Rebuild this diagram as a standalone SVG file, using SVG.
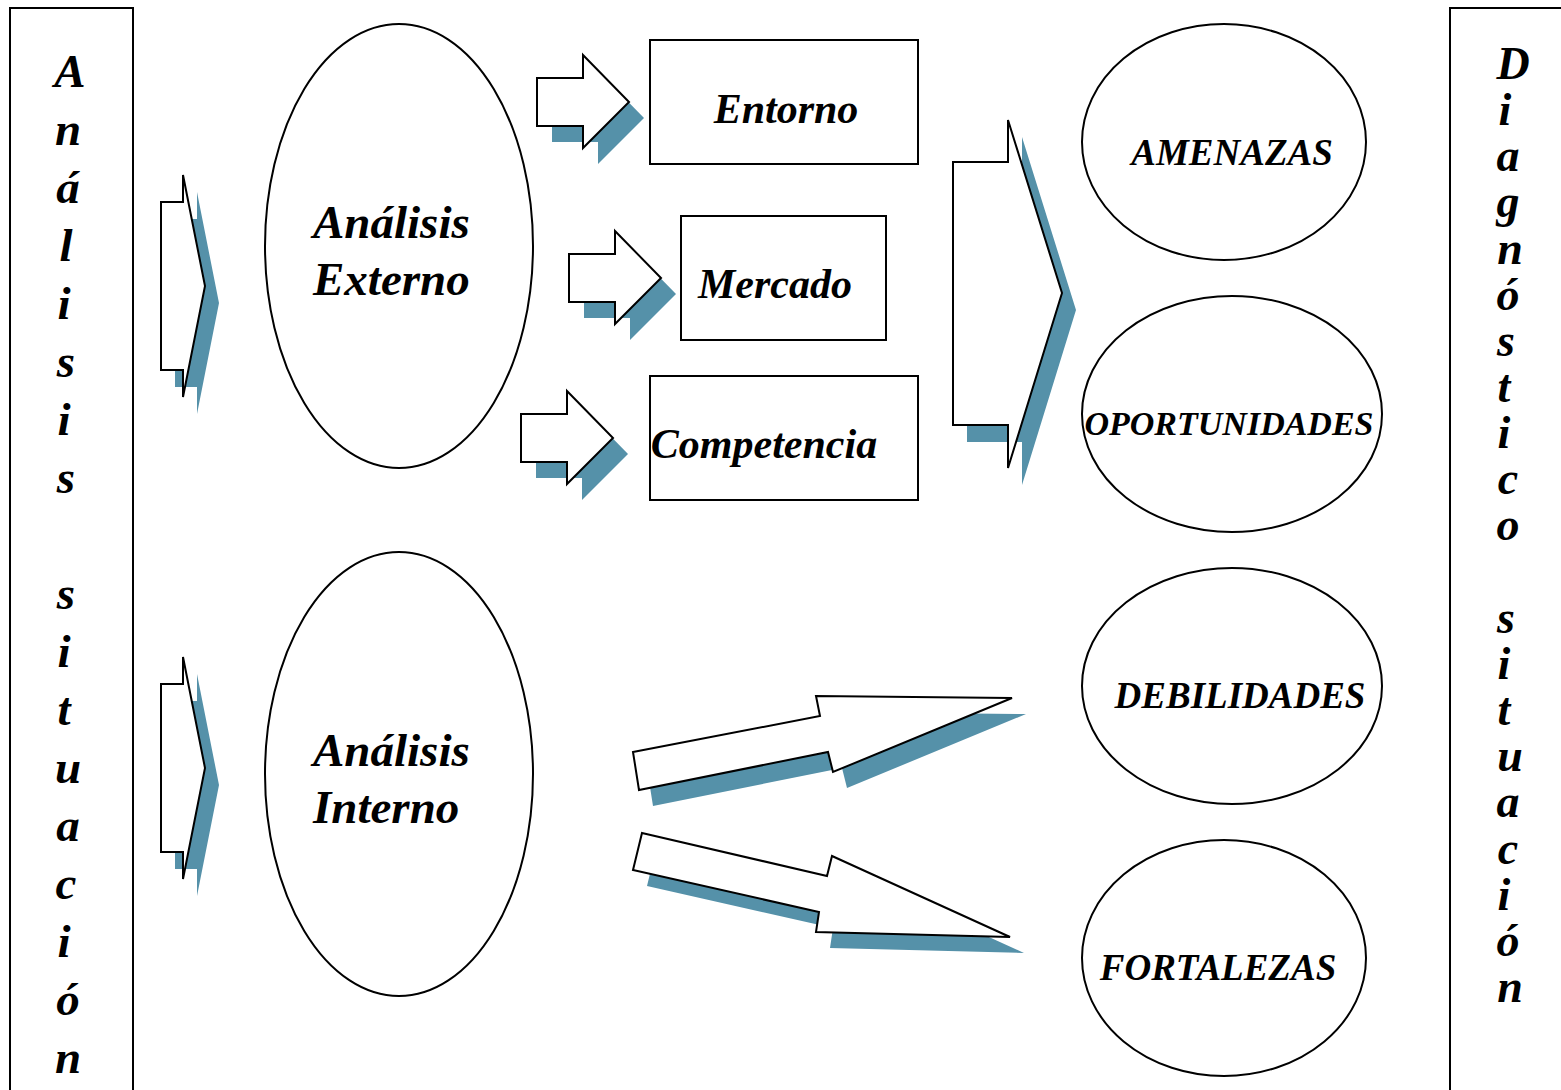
<svg xmlns="http://www.w3.org/2000/svg" width="1561" height="1090" viewBox="0 0 1561 1090">
<style>
.ln{fill:#fff;stroke:#000;stroke-width:2}
.sh{fill:#5591a9;stroke:none}
.t{font-family:"Liberation Serif","Times New Roman",serif;font-weight:bold;font-style:italic;fill:#000}
.col{font-size:47px;text-anchor:middle}
.col2{font-size:46px;text-anchor:middle}
.big{font-size:47px}
.mid{font-size:42px;text-anchor:middle}
.el{font-size:37px;text-anchor:middle}
</style>
<defs>
<polygon id="chev" points="161,202 183,202 183,175 205,286 183,397 183,370 161,370"/>
<polygon id="barrow" points="537,78 583,78 583,55 629,102 583,148 583,126 537,126"/>
</defs>
<rect width="1561" height="1090" fill="#fff"/>

<g id="left-panel">
<rect x="10" y="8" width="123" height="1100" class="ln"/>
<g class="t col">
<text x="70" y="87">A</text>
<text x="68" y="145">n</text>
<text x="68" y="203">á</text>
<text x="66" y="261">l</text>
<text x="64" y="319">i</text>
<text x="66" y="377">s</text>
<text x="64" y="435">i</text>
<text x="66" y="493">s</text>
<text x="66" y="609">s</text>
<text x="64" y="667">i</text>
<text x="64" y="725">t</text>
<text x="68" y="783">u</text>
<text x="68" y="841">a</text>
<text x="66" y="899">c</text>
<text x="64" y="957">i</text>
<text x="68" y="1015">ó</text>
<text x="68" y="1073">n</text>
</g>
</g>

<g id="right-panel">
<rect x="1450" y="8" width="130" height="1100" class="ln"/>
<g class="t col2">
<text x="1513" y="79">D</text>
<text x="1505" y="125">i</text>
<text x="1508" y="171">a</text>
<text x="1508" y="217">g</text>
<text x="1510" y="264">n</text>
<text x="1508" y="310">ó</text>
<text x="1506" y="356">s</text>
<text x="1504" y="402">t</text>
<text x="1504" y="448">i</text>
<text x="1508" y="494">c</text>
<text x="1508" y="540">o</text>
<text x="1506" y="633">s</text>
<text x="1504" y="679">i</text>
<text x="1504" y="725">t</text>
<text x="1510" y="771">u</text>
<text x="1508" y="817">a</text>
<text x="1508" y="864">c</text>
<text x="1504" y="910">i</text>
<text x="1508" y="956">ó</text>
<text x="1510" y="1002">n</text>
</g>
</g>

<g id="connectors">
<use href="#chev" class="sh" transform="translate(14,17)"/>
<use href="#chev" class="ln"/>
<use href="#chev" class="sh" transform="translate(14,499)"/>
<use href="#chev" class="ln" transform="translate(0,482)"/>

<use href="#barrow" class="sh" transform="translate(15,16)"/>
<use href="#barrow" class="ln"/>
<use href="#barrow" class="sh" transform="translate(47,192)"/>
<use href="#barrow" class="ln" transform="translate(32,176)"/>
<use href="#barrow" class="sh" transform="translate(-1,352)"/>
<use href="#barrow" class="ln" transform="translate(-16,336)"/>

<polygon class="sh" points="967,179 1022,179 1022,137 1076,310 1022,485 1022,442 967,442"/>
<polygon class="ln" points="953,162 1008,162 1008,120 1062,293 1008,468 1008,425 953,425"/>

<polygon class="sh" points="647,768 834,732 830,712 1026,714 847,788 842,768 653,806"/>
<polygon class="ln" points="633,752 820,716 816,696 1012,698 833,772 828,752 639,790"/>

<polygon class="sh" points="656,849 841,892 846,872 1024,953 830,948 833,928 647,886"/>
<polygon class="ln" points="642,833 827,876 832,856 1010,937 816,932 819,912 633,870"/>
</g>

<g id="analisis-externo">
<ellipse cx="399" cy="246" rx="134" ry="222" class="ln"/>
<text class="t big" x="313" y="238">Análisis</text>
<text class="t big" x="313" y="295">Externo</text>
</g>
<g id="analisis-interno">
<ellipse cx="399" cy="774" rx="134" ry="222" class="ln"/>
<text class="t big" x="313" y="766">Análisis</text>
<text class="t big" x="313" y="823">Interno</text>
</g>

<g id="entorno">
<rect x="650" y="40" width="268" height="124" class="ln"/>
<text class="t mid" x="786" y="123">Entorno</text>
</g>
<g id="mercado">
<rect x="681" y="216" width="205" height="124" class="ln"/>
<text class="t mid" x="775" y="298">Mercado</text>
</g>
<g id="competencia">
<rect x="650" y="376" width="268" height="124" class="ln"/>
<text class="t mid" x="764" y="458">Competencia</text>
</g>

<g id="amenazas">
<ellipse cx="1224" cy="142" rx="142" ry="118" class="ln"/>
<text class="t el" x="1232" y="165">AMENAZAS</text>
</g>
<g id="oportunidades">
<ellipse cx="1232" cy="414" rx="150" ry="118" class="ln"/>
<text class="t el" x="1229" y="435" style="font-size:34px">OPORTUNIDADES</text>
</g>
<g id="debilidades">
<ellipse cx="1232" cy="686" rx="150" ry="118" class="ln"/>
<text class="t el" x="1240" y="708">DEBILIDADES</text>
</g>
<g id="fortalezas">
<ellipse cx="1224" cy="958" rx="142" ry="118" class="ln"/>
<text class="t el" x="1218" y="980">FORTALEZAS</text>
</g>
</svg>
